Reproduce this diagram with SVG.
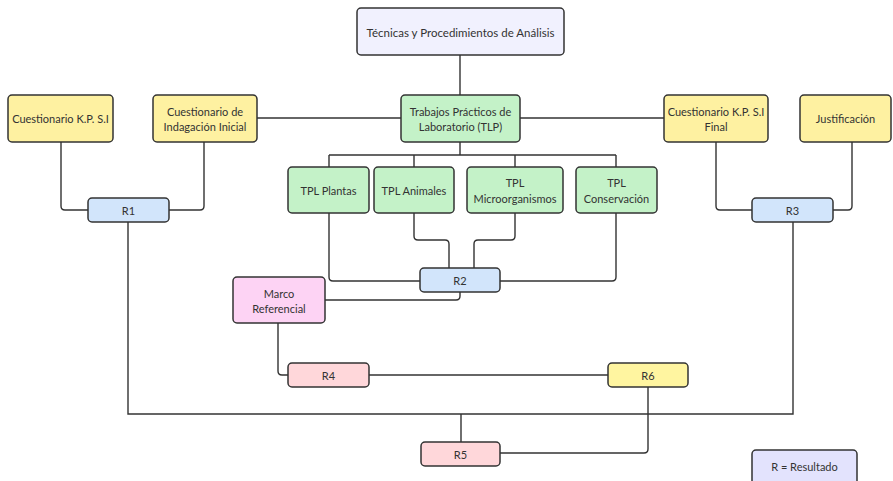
<svg xmlns="http://www.w3.org/2000/svg" width="893" height="481" viewBox="0 0 893 481">
<style>
.n{stroke:#333;stroke-width:1.5}
.y{fill:#fef1a1}
.g{fill:#c4f2c8}
.b{fill:#d2e5fb}
.p{fill:#fdd3f4}
.r{fill:#ffd7da}
.y6{fill:#fff5a0}
.l{fill:#f1f1fe}
.lg{fill:#e3e3fd}
text{font-family:Lato,"Liberation Sans",sans-serif;font-size:11px;fill:#333;text-anchor:middle;dominant-baseline:central}
.c path{fill:none;stroke:#333;stroke-width:1.4}
</style>
<rect width="893" height="481" fill="#fff"/>
<g class="c">
<path d="M460 55V95"/>
<path d="M257 118H401"/>
<path d="M520 118H664"/>
<path d="M460 142V155M329 155H616M329 155V167M414 155V167M515 155V167M616 155V167"/>
<path d="M61 142V206q0 4 4 4H88"/>
<path d="M204 142V206q0 4-4 4H169"/>
<path d="M716 142V206q0 4 4 4H752"/>
<path d="M852 142V206q0 4-4 4H833"/>
<path d="M329 213V277q0 4 4 4H420"/>
<path d="M616 213V277q0 4-4 4H500"/>
<path d="M414 213V236q0 4 4 4H445q4 0 4 4V268"/>
<path d="M515 213V236q0 4-4 4H478q-4 0-4 4V268"/>
<path d="M325 300H456q4 0 4-4V292"/>
<path d="M278 323V371q0 4 4 4H288"/>
<path d="M369 375H608"/>
<path d="M648 387V449q0 4-4 4H500"/>
<path d="M128 222V414H793V222"/>
<path d="M461 414V442"/>
</g>
<g id="tecnicas"><rect class="n l" x="357" y="8" width="207" height="47" rx="4"/><text x="460.5" y="32" style="font-size:11.5px">Técnicas y Procedimientos de Análisis</text></g>
<g id="tlp"><rect class="n g" x="401" y="95" width="119" height="47" rx="4"/><text x="460.5" y="111">Trabajos Prácticos de</text><text x="460.5" y="126">Laboratorio (TLP)</text></g>
<g id="kpsi"><rect class="n y" x="8" y="95" width="105" height="47" rx="4"/><text x="60.5" y="118.5">Cuestionario K.P. S.I</text></g>
<g id="indagacion"><rect class="n y" x="153" y="95" width="104" height="47" rx="4"/><text x="205" y="111">Cuestionario de</text><text x="205" y="126">Indagación Inicial</text></g>
<g id="kpsi-final"><rect class="n y" x="664" y="95" width="104" height="47" rx="4"/><text x="716" y="111">Cuestionario K.P. S.I</text><text x="716" y="126">Final</text></g>
<g id="justificacion"><rect class="n y" x="800" y="95" width="91" height="47" rx="4"/><text x="845.5" y="118.5">Justificación</text></g>
<g id="r1"><rect class="n b" x="88" y="198" width="81" height="24" rx="4"/><text x="128.5" y="210">R1</text></g>
<g id="r3"><rect class="n b" x="752" y="198" width="81" height="24" rx="4"/><text x="792.5" y="210">R3</text></g>
<g id="tpl-plantas"><rect class="n g" x="288" y="167" width="81" height="46" rx="4"/><text x="328.5" y="190">TPL Plantas</text></g>
<g id="tpl-animales"><rect class="n g" x="374" y="167" width="80" height="46" rx="4"/><text x="414" y="190">TPL Animales</text></g>
<g id="tpl-micro"><rect class="n g" x="467" y="167" width="96" height="46" rx="4"/><text x="515" y="182">TPL</text><text x="515" y="198">Microorganismos</text></g>
<g id="tpl-conservacion"><rect class="n g" x="576" y="167" width="81" height="46" rx="4"/><text x="616.5" y="182">TPL</text><text x="616.5" y="198">Conservación</text></g>
<g id="r2"><rect class="n b" x="420" y="268" width="80" height="24" rx="4"/><text x="460" y="280">R2</text></g>
<g id="marco"><rect class="n p" x="233" y="277" width="92" height="46" rx="4"/><text x="279" y="293">Marco</text><text x="279" y="308">Referencial</text></g>
<g id="r4"><rect class="n r" x="288" y="363" width="81" height="24" rx="4"/><text x="328.5" y="375">R4</text></g>
<g id="r6"><rect class="n y6" x="608" y="363" width="80" height="24" rx="4"/><text x="648" y="375">R6</text></g>
<g id="r5"><rect class="n r" x="421" y="442" width="79" height="24" rx="4"/><text x="460.5" y="454">R5</text></g>
<g id="leyenda"><rect class="n lg" x="752" y="450" width="105" height="36" rx="4"/><text x="804.5" y="466">R = Resultado</text></g>
</svg>
